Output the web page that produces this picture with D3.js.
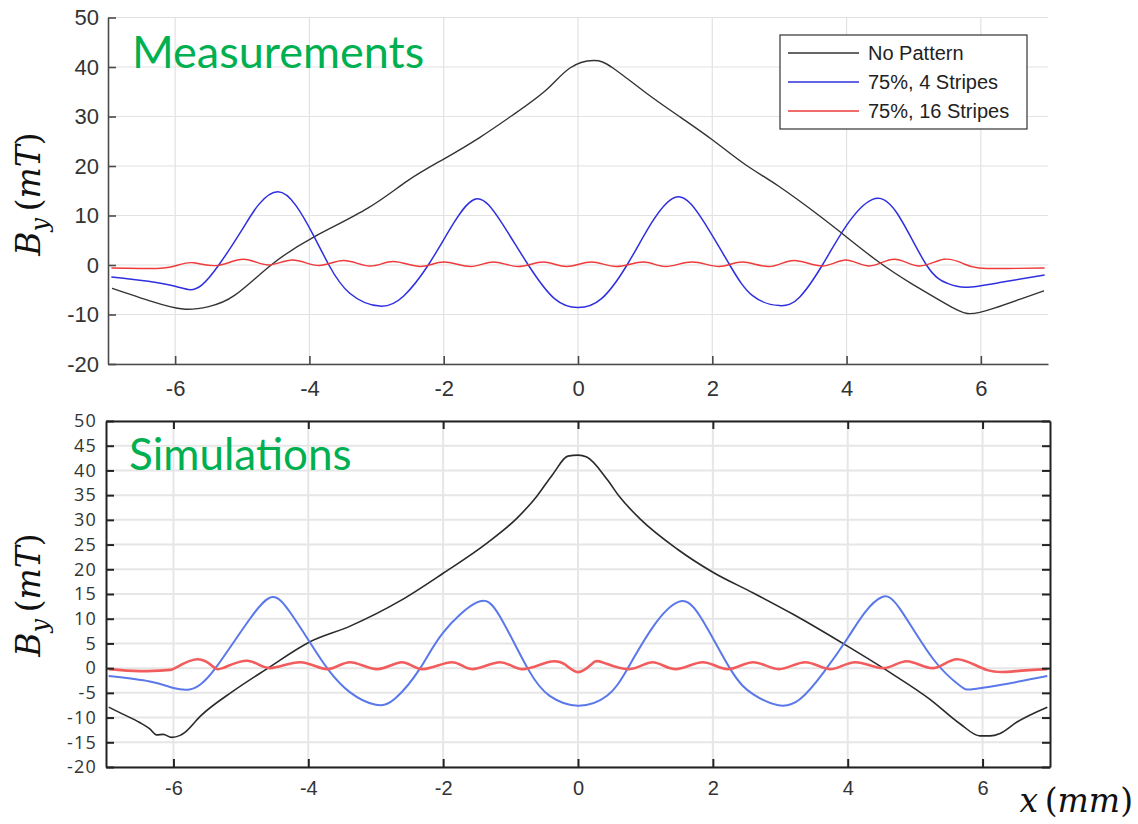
<!DOCTYPE html>
<html>
<head>
<meta charset="utf-8">
<script src="https://cdn.jsdelivr.net/npm/d3@7"></script>
<style>
  body { margin: 0; background: #fff; }
  svg { display: block; }
</style>
</head>
<body>
<svg id="chart"></svg>
<script>
// values, [x in mm, By in mT]
const measNoPattern = [[-6.94,-4.7],[-6.34,-7.4],[-5.88,-8.9],[-5.5,-8.4],[-5.11,-6.1],[-4.57,0],[-3.93,5.7],[-3.13,11.5],
  [-2.54,17.0],[-2.0,21.4],[-1.46,25.8],[-0.96,30.4],[-0.47,35.4],[-0.12,39.8],[0.23,41.3],[0.52,39.8],[1.01,34.8],
  [1.51,30.0],[2.0,25.3],[2.49,20.3],[2.99,15.9],[3.58,10.1],[3.93,6.4],[4.47,0.7],[4.96,-3.7],[5.46,-7.7],[5.8,-9.8],
  [6.2,-8.7],[6.94,-5.2]];
const meas4Stripes = [[-6.95,-2.4],[-6.4,-3.3],[-6.0,-4.3],[-5.78,-5.0],[-5.6,-4.0],[-5.35,0],[-5.0,7.2],[-4.75,12.3],
  [-4.47,14.8],[-4.2,12.0],[-3.94,6.0],[-3.71,0],[-3.4,-5.7],[-2.95,-8.3],[-2.6,-6.3],[-2.23,0],[-1.85,8.5],[-1.5,13.4],
  [-1.15,8.8],[-0.74,0],[-0.35,-6.8],[0,-8.6],[0.35,-6.8],[0.73,0],[1.1,8.6],[1.49,13.8],[1.87,8.8],[2.26,0],[2.6,-6.2],
  [3.0,-8.2],[3.3,-6.5],[3.64,0],[4.0,8.0],[4.38,13.2],[4.75,10.5],[5.19,0],[5.5,-3.7],[5.78,-4.5],[6.3,-3.5],[6.95,-2.0]];
const meas16Stripes = [[-6.95,-0.6],[-6.5,-0.7],[-6.17,-0.6],[-5.95,0],[-5.72,0.45],[-5.37,-0.1],[-4.98,1.15],[-4.62,0],
  [-4.25,1.0],[-3.86,-0.1],[-3.49,0.9],[-3.1,-0.2],[-2.75,0.7],[-2.35,-0.3],[-2.0,0.6],[-1.6,-0.3],[-1.26,0.6],[-0.89,-0.3],
  [-0.52,0.6],[-0.17,-0.3],[0.2,0.6],[0.57,-0.3],[0.97,0.6],[1.31,-0.3],[1.7,0.6],[2.1,-0.3],[2.45,0.6],[2.85,-0.3],
  [3.22,0.9],[3.64,-0.2],[3.99,1.0],[4.34,-0.2],[4.71,1.15],[5.08,-0.2],[5.45,1.15],[5.75,0.2],[5.97,-0.6],[6.4,-0.7],[6.95,-0.6]];

const simNoPattern = [[-6.96,-7.9],[-6.75,-9.3],[-6.5,-11],[-6.35,-12.3],[-6.25,-13.5],[-6.15,-13.4],[-6.03,-14.0],[-5.9,-13.6],
  [-5.83,-13],[-5.6,-9.7],[-5.12,-4.7],[-4.62,-0.2],[-3.98,5.3],[-3.38,8.5],[-2.64,13.6],[-2.0,19.2],[-1.35,25.3],[-0.9,30.4],
  [-0.61,34.8],[-0.37,39.3],[-0.15,42.9],[0,43.1],[0.13,42.7],[0.43,38.2],[0.62,34.6],[0.92,30.2],[1.47,24.1],[2.0,19.4],
  [2.6,15.2],[3.19,10.9],[3.99,4.5],[4.63,-0.9],[5.22,-6.3],[5.67,-11.3],[5.96,-13.7],[6.11,-13.7],[6.26,-13.2],[6.51,-10.9],[6.96,-7.9]];
const sim4Stripes = [[-6.96,-1.6],[-6.35,-2.7],[-6.0,-4.0],[-5.76,-4.3],[-5.6,-3.3],[-5.36,0.3],[-4.87,9.9],[-4.53,14.4],
  [-4.27,11.3],[-3.98,5.3],[-3.71,-0.2],[-3.38,-4.9],[-3.0,-7.4],[-2.7,-6.0],[-2.34,0],[-2.0,7.2],[-1.5,13.3],[-1.16,10.5],
  [-0.74,-0.2],[-0.42,-5.6],[0,-7.6],[0.43,-5.6],[0.73,-0.2],[1.12,8.5],[1.49,13.4],[1.81,10.5],[2.26,-0.2],[2.6,-5.3],
  [2.97,-7.5],[3.29,-6.3],[3.64,-0.9],[3.99,5.9],[4.25,11.2],[4.51,14.4],[4.78,11.9],[5.27,1.8],[5.67,-3.6],[5.82,-4.3],[6.22,-3.5],[6.96,-1.6]];
const sim16Stripes = [[-6.96,-0.2],[-6.5,-0.6],[-6.1,-0.4],[-5.95,0.2],[-5.65,1.8],[-5.42,0.4],[-5.27,0],[-4.9,1.5],[-4.57,0],
  [-4.12,1.2],[-3.72,-0.2],[-3.38,1.2],[-2.98,-0.2],[-2.61,1.2],[-2.3,-0.2],[-1.87,1.2],[-1.57,-0.2],[-1.16,1.2],[-0.84,-0.2],
  [-0.45,1.2],[-0.2,0.8],[0,-0.8],[0.2,0.8],[0.36,1.2],[0.76,-0.2],[1.11,1.2],[1.45,-0.2],[1.85,1.2],[2.22,-0.2],[2.6,1.2],
  [2.98,-0.2],[3.37,1.2],[3.74,-0.2],[4.11,1.2],[4.53,0],[4.88,1.4],[5.27,0],[5.62,1.8],[6.07,-0.4],[6.5,-0.6],[6.96,-0.2]];

const seriesNames = ['No Pattern', '75%, 4 Stripes', '75%, 16 Stripes'];
const xTicks = [-6, -4, -2, 0, 2, 4, 6];
const yTicksTop = [-20, -10, 0, 10, 20, 30, 40, 50];
const yTicksBottom = [-20, -15, -10, -5, 0, 5, 10, 15, 20, 25, 30, 35, 40, 45, 50];

const W = 1138, H = 824;
const svg = d3.select('#chart').attr('width', W).attr('height', H);
svg.append('rect').attr('width', W).attr('height', H).attr('fill', '#fff');

const fmt = d => String(d);

// ---------- top panel: measurements ----------
const pTop = { left: 108, right: 1048, top: 17.5, bottom: 364 };
const xTop = d3.scaleLinear().domain([-7, 7]).range([pTop.left, pTop.right]);
const yTop = d3.scaleLinear().domain([-20, 50]).range([pTop.bottom, pTop.top]);

const gTop = svg.append('g');
gTop.selectAll('.gx').data(xTicks).enter().append('line')
  .attr('x1', d => xTop(d)).attr('x2', d => xTop(d))
  .attr('y1', pTop.top).attr('y2', pTop.bottom)
  .attr('stroke', '#e2e2e2').attr('stroke-width', 1.2);
gTop.selectAll('.gy').data(yTicksTop).enter().append('line')
  .attr('x1', pTop.left).attr('x2', pTop.right)
  .attr('y1', d => yTop(d)).attr('y2', d => yTop(d))
  .attr('stroke', '#e2e2e2').attr('stroke-width', 1.2);

svg.append('clipPath').attr('id', 'clipTop').append('rect')
  .attr('x', pTop.left).attr('y', pTop.top)
  .attr('width', pTop.right - pTop.left).attr('height', pTop.bottom - pTop.top);

const lineTop = d3.line().x(d => xTop(d[0])).y(d => yTop(d[1])).curve(d3.curveNatural);
const topSeries = [
  { data: measNoPattern, color: '#333333', w: 1.4 },
  { data: meas4Stripes, color: '#2f2fe0', w: 1.5 },
  { data: meas16Stripes, color: '#ee3a3a', w: 1.4 }
];
gTop.append('g').attr('clip-path', 'url(#clipTop)')
  .selectAll('path').data(topSeries).enter().append('path')
  .attr('d', d => lineTop(d.data))
  .attr('fill', 'none').attr('stroke', d => d.color).attr('stroke-width', d => d.w);

const axTopY = gTop.append('g').attr('transform', `translate(${pTop.left},0)`)
  .call(d3.axisLeft(yTop).tickValues(yTicksTop).tickFormat(fmt).tickSizeInner(-8).tickSizeOuter(0).tickPadding(9));
const axTopX = gTop.append('g').attr('transform', `translate(0,${pTop.bottom})`)
  .call(d3.axisBottom(xTop).tickValues(xTicks).tickFormat(fmt).tickSizeInner(-8).tickSizeOuter(0).tickPadding(16));
[axTopY, axTopX].forEach(a => {
  a.select('.domain').attr('stroke', '#4a4a4a').attr('stroke-width', 1.6);
  a.selectAll('.tick line').attr('stroke', '#4a4a4a').attr('stroke-width', 1.6);
  a.selectAll('.tick text').attr('fill', '#333').attr('font-family', 'Liberation Sans, Arial, sans-serif').attr('font-size', 22);
});

// legend
const leg = gTop.append('g');
leg.append('rect').attr('x', 780).attr('y', 35).attr('width', 247).attr('height', 94)
  .attr('fill', '#fff').attr('stroke', '#333').attr('stroke-width', 1.2);
seriesNames.forEach((name, i) => {
  const yy = 53 + i * 29;
  leg.append('line').attr('x1', 788).attr('x2', 859).attr('y1', yy).attr('y2', yy)
    .attr('stroke', topSeries[i].color).attr('stroke-width', 1.5);
  leg.append('text').attr('x', 868).attr('y', yy).attr('dy', '0.35em')
    .attr('font-family', 'Liberation Sans, Arial, sans-serif').attr('font-size', 20).attr('fill', '#222')
    .text(name);
});

svg.append('text').attr('x', 132).attr('y', 68)
  .attr('font-family', 'Lato, Open Sans, sans-serif').attr('font-size', 45).attr('fill', '#00b050')
  .text('Measurements');

// ---------- bottom panel: simulations ----------
const pBot = { left: 106, right: 1050, top: 421, bottom: 767 };
const xBot = d3.scaleLinear().domain([-7, 7]).range([pBot.left, pBot.right]);
const yBot = d3.scaleLinear().domain([-20, 50]).range([pBot.bottom, pBot.top]);

const gBot = svg.append('g');
gBot.selectAll('.gx').data(xTicks).enter().append('line')
  .attr('x1', d => xBot(d)).attr('x2', d => xBot(d))
  .attr('y1', pBot.top).attr('y2', pBot.bottom)
  .attr('stroke', '#e6e6e6').attr('stroke-width', 2);
gBot.selectAll('.gy').data(yTicksBottom).enter().append('line')
  .attr('x1', pBot.left).attr('x2', pBot.right)
  .attr('y1', d => yBot(d)).attr('y2', d => yBot(d))
  .attr('stroke', '#e6e6e6').attr('stroke-width', 2);

svg.append('clipPath').attr('id', 'clipBot').append('rect')
  .attr('x', pBot.left).attr('y', pBot.top)
  .attr('width', pBot.right - pBot.left).attr('height', pBot.bottom - pBot.top);

// the simulated field without pattern has kinks, so it gets a monotone curve
const lineBotKinked = d3.line().x(d => xBot(d[0])).y(d => yBot(d[1])).curve(d3.curveMonotoneX);
const lineBotSmooth = d3.line().x(d => xBot(d[0])).y(d => yBot(d[1])).curve(d3.curveNatural);
const botSeries = [
  { data: simNoPattern, color: '#2a2a2a', w: 1.6, line: lineBotKinked },
  { data: sim4Stripes, color: '#5a78ea', w: 2, line: lineBotSmooth },
  { data: sim16Stripes, color: '#f25c5c', w: 2.6, line: lineBotSmooth }
];
gBot.append('g').attr('clip-path', 'url(#clipBot)')
  .selectAll('path').data(botSeries).enter().append('path')
  .attr('d', d => d.line(d.data))
  .attr('fill', 'none').attr('stroke', d => d.color).attr('stroke-width', d => d.w);

const axBotY = gBot.append('g').attr('transform', `translate(${pBot.left},0)`)
  .call(d3.axisLeft(yBot).tickValues(yTicksBottom).tickFormat(fmt).tickSizeInner(-8).tickSizeOuter(0).tickPadding(9));
const axBotX = gBot.append('g').attr('transform', `translate(0,${pBot.bottom})`)
  .call(d3.axisBottom(xBot).tickValues(xTicks).tickFormat(fmt).tickSizeInner(-8).tickSizeOuter(0).tickPadding(14));
const axBotR = gBot.append('g').attr('transform', `translate(${pBot.right},0)`)
  .call(d3.axisRight(yBot).tickValues(yTicksBottom).tickFormat('').tickSizeInner(-8).tickSizeOuter(0));
const axBotT = gBot.append('g').attr('transform', `translate(0,${pBot.top})`)
  .call(d3.axisTop(xBot).tickValues(xTicks).tickFormat('').tickSizeInner(-8).tickSizeOuter(0));
[axBotY, axBotX, axBotR, axBotT].forEach(a => {
  a.select('.domain').attr('stroke', '#222').attr('stroke-width', 2);
  a.selectAll('.tick line').attr('stroke', '#222').attr('stroke-width', 2);
});
axBotY.selectAll('.tick text').attr('fill', '#333').attr('font-family', 'Open Sans, sans-serif')
  .attr('font-size', 18).attr('letter-spacing', 1.2);
axBotX.selectAll('.tick text').attr('fill', '#333').attr('font-family', 'Liberation Sans, Arial, sans-serif').attr('font-size', 20);

svg.append('text').attr('x', 129).attr('y', 470)
  .attr('font-family', 'Lato, Open Sans, sans-serif').attr('font-size', 44).attr('fill', '#00b050')
  .text('Simulations');

// ---------- axis titles ----------
function byLabel(cx, cy) {
  const t = svg.append('text')
    .attr('transform', `translate(${cx},${cy}) rotate(-90)`)
    .attr('text-anchor', 'middle')
    .attr('font-family', 'DejaVu Serif, serif').attr('font-size', 33).attr('fill', '#111');
  t.append('tspan').attr('font-style', 'italic').text('B');
  t.append('tspan').attr('font-style', 'italic').attr('font-size', 24).attr('dy', 8).text('y');
  t.append('tspan').attr('dy', -8).text('\u2009(');
  t.append('tspan').attr('font-style', 'italic').text('mT');
  t.append('tspan').text(')');
}
byLabel(40, 194);
byLabel(40, 595);

const xl = svg.append('text').attr('x', 1133).attr('y', 812).attr('text-anchor', 'end')
  .attr('font-family', 'DejaVu Serif, serif').attr('font-size', 33).attr('fill', '#111');
xl.append('tspan').attr('font-style', 'italic').text('x');
xl.append('tspan').text('\u2009(');
xl.append('tspan').attr('font-style', 'italic').text('mm');
xl.append('tspan').text(')');
</script>
</body>
</html>
